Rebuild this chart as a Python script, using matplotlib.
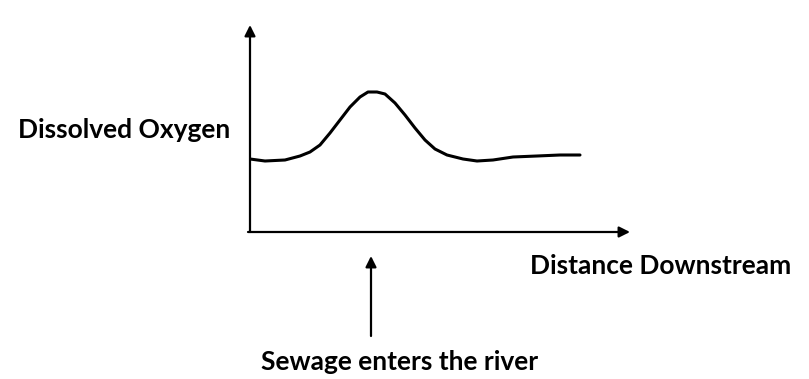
import matplotlib
matplotlib.use("Agg")
import matplotlib.pyplot as plt

# Curve: distance from origin vs dissolved oxygen (pixel-ish units)
distance = [0, 15, 35, 50, 60, 70, 80, 90, 100, 110, 118, 127, 135, 145, 155,
            165, 175, 185, 197, 213, 227, 243, 263, 287, 310, 330]
oxygen = [73, 71, 72, 76, 80, 87, 99, 112, 125, 135, 140, 140, 138, 129, 117,
          104, 92, 83, 77, 73, 71, 72, 75, 76, 77, 77]

x_max, y_max = 380, 207
sewage_at = 121

y_label = "Dissolved Oxygen"
x_label = "Distance Downstream"
sewage_label = "Sewage enters the river"

W, H = 809, 379
fig = plt.figure(figsize=(W / 100, H / 100), dpi=100)
ax = fig.add_axes([250 / W, (H - 232) / H, x_max / W, y_max / H])
ax.set_xlim(0, x_max)
ax.set_ylim(0, y_max)
ax.axis("off")

arrow = dict(arrowstyle="-|>", color="black", lw=1.6, mutation_scale=16,
             shrinkA=0, shrinkB=0)
ax.annotate("", xy=(x_max, 0), xytext=(-2, 0), arrowprops=arrow,
            annotation_clip=False)
ax.annotate("", xy=(0, y_max), xytext=(0, 0), arrowprops=arrow,
            annotation_clip=False)

ax.plot(distance, oxygen, color="black", lw=2.2, solid_capstyle="round",
        solid_joinstyle="round")

# arrow marking where sewage enters
ax.annotate("", xy=(sewage_at, -24), xytext=(sewage_at, -104), arrowprops=arrow,
            annotation_clip=False)

font = dict(family="Lato", weight="bold", size=19, va="center", ha="left")
fig.text(18 / W, 1 - 130 / H, y_label, **font)
fig.text(530 / W, 1 - 266 / H, x_label, **font)
fig.text(261 / W, 1 - 362 / H, sewage_label, **font)

fig.savefig("out.png", dpi=100, facecolor="white")
